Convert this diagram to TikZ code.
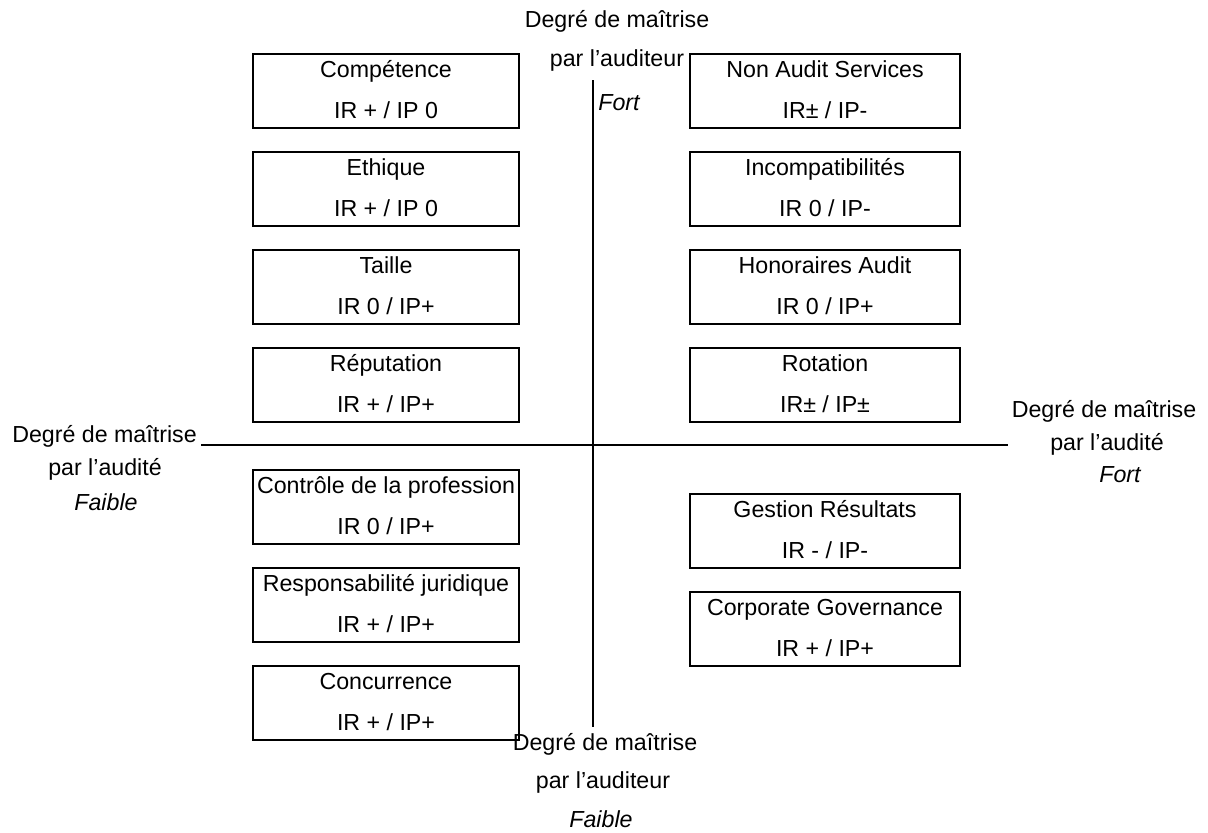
\documentclass[tikz,border=0pt]{standalone}
\usepackage{fontspec}
\setmainfont{Liberation Sans}
\usetikzlibrary{calc}
\newcommand\quadbox[6]{%
  \node[#1] (#2) at (#3,#4) {};
  \node[txt] (#2a) at ($(#2.north)+(0,23.5)$) {#5};
  \node[txt] (#2b) at ($(#2.north)+(0,64.5)$) {#6};}
\begin{document}
\begin{tikzpicture}[x=0.5pt,y=-0.5pt,
  boxL/.style={draw=black,line width=0.6pt,minimum width=133pt,minimum height=37pt,inner sep=0pt,outer sep=0pt},
  boxR/.style={boxL,minimum width=135pt},
  txt/.style={font=\fontsize{11.6pt}{14pt}\selectfont,inner sep=0pt,anchor=base},
  itx/.style={font=\fontsize{11.6pt}{14pt}\selectfont\itshape,inner sep=0pt,anchor=base},
  vaxis/.style={line width=1pt},
  haxis/.style={line width=0.75pt}]
\useasboundingbox (0,0) rectangle (1208,832);
% axes
\coordinate (vt) at (593,80);
\coordinate (vb) at (593,727);
\coordinate (hl) at (201,445);
\coordinate (hr) at (1008,445);
\draw[vaxis] (vt) -- (vb);
\draw[haxis] (hl) -- (hr);
% left column
\quadbox{boxL}{comp}{386}{91}{Compétence}{IR + / IP 0}
\quadbox{boxL}{ethi}{386}{189}{Ethique}{IR + / IP 0}
\quadbox{boxL}{tail}{386}{287}{Taille}{IR 0 / IP+}
\quadbox{boxL}{repu}{386}{385}{Réputation}{IR + / IP+}
\quadbox{boxL}{ctrl}{386}{507}{Contrôle de la profession}{IR 0 / IP+}
\quadbox{boxL}{resp}{386}{605}{Responsabilité juridique}{IR + / IP+}
\quadbox{boxL}{conc}{386}{703}{Concurrence}{IR + / IP+}
% right column
\quadbox{boxR}{nas}{825}{91}{Non Audit Services}{IR± / IP-}
\quadbox{boxR}{inco}{825}{189}{Incompatibilités}{IR 0 / IP-}
\quadbox{boxR}{hono}{825}{287}{Honoraires Audit}{IR 0 / IP+}
\quadbox{boxR}{rota}{825}{385}{Rotation}{IR± / IP±}
\quadbox{boxR}{gest}{825}{531}{Gestion Résultats}{IR - / IP-}
\quadbox{boxR}{corp}{825}{629}{Corporate Governance}{IR + / IP+}
% axis labels
\node[txt] (t1) at (617,27) {Degré de maîtrise};
\node[txt] (t2) at (617,66) {par l’auditeur};
\node[itx,anchor=base west] (t3) at (598,110) {Fort};
\node[txt] (r1) at (1104,417) {Degré de maîtrise};
\node[txt] (r2) at (1107,450) {par l’audité};
\node[itx] (r3) at (1120,482) {Fort};
\node[txt] (l1) at (104.5,442) {Degré de maîtrise};
\node[txt] (l2) at (105,475) {par l’audité};
\node[itx] (l3) at (106,510) {Faible};
\node[txt] (b1) at (605,750) {Degré de maîtrise};
\node[txt] (b2) at (603,788) {par l’auditeur};
\node[itx] (b3) at (601,827) {Faible};
\end{tikzpicture}
\end{document}
